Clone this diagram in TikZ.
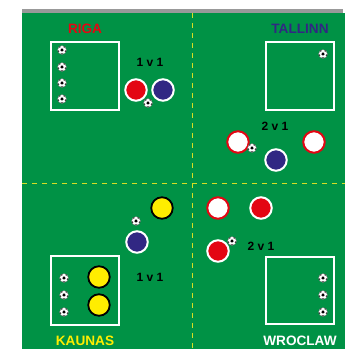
\documentclass[tikz,border=0pt]{standalone}
\usepackage{fontspec}
\setmainfont{Liberation Sans}
\definecolor{pitch}{RGB}{0,146,69}
\definecolor{teamred}{RGB}{227,6,19}
\definecolor{teamblue}{RGB}{49,39,131}
\definecolor{teamyellow}{RGB}{255,237,0}
\definecolor{lineyellow}{RGB}{214,222,35}
\tikzset{
  player/.style={circle, minimum size=21.5pt, inner sep=0pt, line width=2pt},
  redplayer/.style={player, fill=teamred, draw=white},
  blueplayer/.style={player, fill=teamblue, draw=white},
  whiteplayer/.style={player, fill=white, draw=teamred},
  yellowplayer/.style={player, fill=teamyellow, draw=black, line width=1.8pt},
  city/.style={font=\fontsize{13.6}{16}\selectfont\bfseries},
  score/.style={font=\fontsize{12}{14}\selectfont\bfseries},
  gridbox/.style={draw=white, line width=1.3pt},
  soccerball/.pic={
    \fill[white] (0,0) circle (4.4);
    \draw[black!60, line width=0.3pt] (0,0) circle (4.4);
    \fill[black] (90:1.6) -- (162:1.6) -- (234:1.6) -- (306:1.6) -- (18:1.6) -- cycle;
    \foreach \a in {90,162,234,306,18} \fill[black!75] (\a:3.7) circle (0.9);
  }
}
\begin{document}
\begin{tikzpicture}[x=1pt, y=-1pt]
    \useasboundingbox (0,0) rectangle (348,349);

    % Pitch
    \fill[pitch] (22,13) rectangle (345,349);
    \fill[black!40] (22,9) rectangle (343,13);
    \draw[lineyellow, line width=1pt, dash pattern=on 5pt off 5pt] (192.7,13) -- (192.7,349);
    \draw[lineyellow, line width=1pt, dash pattern=on 5pt off 5pt] (22,183) -- (345,183);

    % Riga
    \node[city, text=teamred] (riga) at (85,29) {RIGA};
    \draw[gridbox] (51,42) rectangle (119,110);
    \foreach \y in {50,67,83,99} \pic at (62,\y) {soccerball};
    \node[score] (onevone-a) at (150,62) {1 v 1};
    \node[redplayer] (riga-red) at (136,90) {};
    \node[blueplayer] (riga-blue) at (163,90) {};
    \pic at (148,103) {soccerball};

    % Tallinn
    \node[city, text=teamblue] (tallinn) at (300,29) {TALLINN};
    \draw[gridbox] (266,42) rectangle (334,110);
    \pic at (323,54) {soccerball};
    \node[score] (twovone-a) at (275,126) {2 v 1};
    \node[whiteplayer] (tallinn-white-a) at (238,142) {};
    \node[whiteplayer] (tallinn-white-b) at (314,142) {};
    \node[blueplayer] (tallinn-blue) at (276,160) {};
    \pic at (252,148) {soccerball};

    % Kaunas
    \node[yellowplayer] (kaunas-yellow) at (162,208) {};
    \pic at (136,221) {soccerball};
    \node[blueplayer] (kaunas-blue) at (137,242) {};
    \draw[gridbox] (51,256) rectangle (119,325);
    \foreach \y in {278,295,312} \pic at (64,\y) {soccerball};
    \node[yellowplayer] (kaunas-yellow-a) at (99,277) {};
    \node[yellowplayer] (kaunas-yellow-b) at (99,305) {};
    \node[score] (onevone-b) at (150,277) {1 v 1};
    \node[city, text=teamyellow] (kaunas) at (85,341) {KAUNAS};

    % Wroclaw
    \node[whiteplayer] (wroclaw-white) at (218,208) {};
    \node[redplayer] (wroclaw-red-a) at (261,208) {};
    \node[redplayer] (wroclaw-red-b) at (218,251) {};
    \pic at (232,241) {soccerball};
    \node[score] (twovone-b) at (261,246) {2 v 1};
    \draw[gridbox] (266,257) rectangle (334,324);
    \foreach \y in {278,295,312} \pic at (323,\y) {soccerball};
    \node[city, text=white] (wroclaw) at (300,341) {WROCLAW};
\end{tikzpicture}
\end{document}
